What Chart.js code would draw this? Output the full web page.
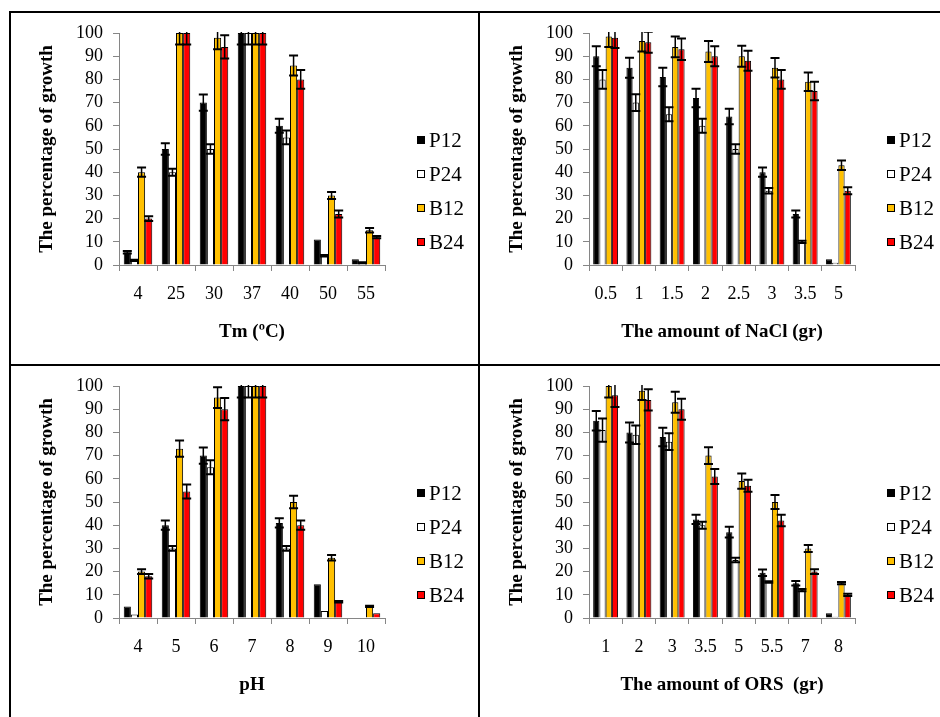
<!DOCTYPE html>
<html>
<head>
<meta charset="utf-8">
<script src="https://cdn.jsdelivr.net/npm/chart.js@4.4.0/dist/chart.umd.min.js"></script>
<style>
  body { margin: 0; background: #fff; width: 940px; height: 717px; overflow: hidden; position: relative; }
  .linea { position: absolute; background: #000; }
  canvas { position: absolute; }
</style>
</head>
<body>
<!-- cornice dei quattro pannelli -->
<div class="linea" style="left:9px;top:11px;width:931px;height:2px"></div>
<div class="linea" style="left:9px;top:11px;width:2px;height:706px"></div>
<div class="linea" style="left:478px;top:11px;width:2px;height:706px"></div>
<div class="linea" style="left:9px;top:364px;width:931px;height:2px"></div>

<canvas id="graficoTemp" width="466" height="350" style="left:12px;top:14px"></canvas>
<canvas id="graficoNaCl" width="458" height="350" style="left:482px;top:14px"></canvas>
<canvas id="graficoPH" width="466" height="350" style="left:12px;top:367px"></canvas>
<canvas id="graficoORS" width="458" height="350" style="left:482px;top:367px"></canvas>

<script>
// Serie e colori
const serie = ['P12', 'P24', 'B12', 'B24'];
const coloriSerie = ['#000000', '#ffffff', '#ffc000', '#ff0000'];

// Temperatura
const tempCategorie = ['4', '25', '30', '37', '40', '50', '55'];
const tempP12 = [5.5, 50, 70, 100, 60, 11, 2.5];
const tempP24 = [2, 40, 50, 100, 55, 4, 1];
const tempB12 = [40, 100, 98, 100, 86, 30, 15];
const tempB24 = [20, 100, 94, 100, 80, 22, 12];
const tempP12Err = [0.5, 2.5, 3.5, 5, 3, 0, 0];
const tempP24Err = [0.3, 1.5, 2, 5, 3, 0.3, 0.2];
const tempB12Err = [2, 5, 5, 5, 4.3, 1.5, 1];
const tempB24Err = [1, 5, 5, 5, 4, 1.5, 0.5];

// NaCl
const naclCategorie = ['0.5', '1', '1.5', '2', '2.5', '3', '3.5', '5'];
const naclP12 = [90, 85, 81, 72, 64, 40, 22, 2.5];
const naclP24 = [80, 70, 65, 60, 50, 32, 10, 1];
const naclB12 = [98.5, 96.5, 94, 92, 90, 85, 79, 43];
const naclB24 = [98, 96, 93, 90, 88, 80, 75, 32];
const naclP12Err = [4.3, 4.3, 4, 4, 3.3, 2, 1.5, 0];
const naclP24Err = [4, 3.6, 3, 3, 2, 1.2, 0.5, 0];
const naclB12Err = [4.5, 4.5, 4.5, 4.5, 4.5, 4.2, 4, 2];
const naclB24Err = [4.5, 4.5, 4.6, 4.3, 4.3, 4, 4, 1.5];

// pH
const phCategorie = ['4', '5', '6', '7', '8', '9', '10'];
const phP12 = [5, 40, 70, 100, 41, 14.5, 0];
const phP24 = [1.5, 30, 65, 100, 30, 3, 0];
const phB12 = [20, 73, 95, 100, 50, 26, 5];
const phB24 = [18, 54.5, 90, 100, 40, 7, 2];
const phP12Err = [0, 2, 3.5, 5, 2, 0, 0];
const phP24Err = [0, 1, 3, 5, 1, 0, 0];
const phB12Err = [1, 3.5, 4.5, 5, 2.7, 1.2, 0.3];
const phB24Err = [1, 3, 4.8, 5, 2, 0.3, 0];

// ORS
const orsCategorie = ['1', '2', '3', '3.5', '5', '5.5', '7', '8'];
const orsP12 = [85, 80, 78, 42.5, 37, 19.5, 15, 2];
const orsP24 = [81, 79, 76, 40, 25, 15.5, 12, 0.5];
const orsB12 = [100, 98, 93, 70, 59, 50, 30, 15];
const orsB24 = [96, 94, 90, 61, 57, 42, 20, 10];
const orsP12Err = [4.2, 4.3, 4, 2, 2.3, 1.4, 1, 0];
const orsP24Err = [5, 4, 3.6, 1.5, 1, 0.3, 0.5, 0];
const orsB12Err = [5, 4, 4.5, 3.6, 3.3, 3, 1.5, 0.5];
const orsB24Err = [5, 4.6, 4.5, 3.2, 2.6, 2.5, 1, 0.5];

const fontSerif = 'Liberation Serif';

// Plugin per le barre d'errore (tagliate sull'area del grafico)
const barreErrore = {
    id: 'barreErrore',
    afterDatasetsDraw(chart) {
        const ctx = chart.ctx;
        const area = chart.chartArea;
        const scalaY = chart.scales.y;
        ctx.save();
        ctx.beginPath();
        ctx.rect(area.left, area.top - 1, area.right - area.left, area.bottom - area.top + 1);
        ctx.clip();
        ctx.strokeStyle = '#000';
        chart.data.datasets.forEach((ds, i) => {
            const meta = chart.getDatasetMeta(i);
            meta.data.forEach((barra, j) => {
                const err = ds.errori[j];
                if (!err) return;
                const v = ds.data[j];
                const yAlto = scalaY.getPixelForValue(v + err);
                const yBasso = scalaY.getPixelForValue(v - err);
                const mezzo = 4.5;
                ctx.lineWidth = 1.5;
                ctx.beginPath();
                ctx.moveTo(barra.x, yAlto);
                ctx.lineTo(barra.x, yBasso);
                ctx.stroke();
                ctx.lineWidth = 2;
                ctx.beginPath();
                ctx.moveTo(barra.x - mezzo, yAlto);
                ctx.lineTo(barra.x + mezzo, yAlto);
                ctx.moveTo(barra.x - mezzo, yBasso);
                ctx.lineTo(barra.x + mezzo, yBasso);
                ctx.stroke();
            });
        });
        ctx.restore();
    }
};

// Legenda a destra disegnata a mano
const legendaLaterale = {
    id: 'legendaLaterale',
    afterDraw(chart) {
        const ctx = chart.ctx;
        const area = chart.chartArea;
        ctx.save();
        ctx.font = '21px "' + fontSerif + '"';
        ctx.textBaseline = 'middle';
        ctx.fillStyle = '#000';
        chart.data.datasets.forEach((ds, i) => {
            const x = area.right + 32;
            const y = area.top + 107 + 34 * i;
            ctx.fillStyle = ds.backgroundColor;
            ctx.fillRect(x, y - 4, 8, 8);
            ctx.strokeStyle = '#000';
            ctx.lineWidth = 1;
            ctx.strokeRect(x + 0.5, y - 3.5, 7, 7);
            ctx.fillStyle = '#000';
            ctx.fillText(ds.label, x + 12, y + 1);
        });
        ctx.restore();
    }
};

function disegnaGrafico(idCanvas, categorie, valori, errori, titoloX) {
    const ctx = document.getElementById(idCanvas).getContext('2d');
    const larghezza = ctx.canvas.width;

    const datasets = serie.map((nome, i) => ({
        label: nome,
        data: valori[i],
        errori: errori[i],
        backgroundColor: coloriSerie[i],
        borderColor: '#000',
        borderWidth: 1,
        categoryPercentage: 0.75,
        barPercentage: 1.0
    }));

    return new Chart(ctx, {
        type: 'bar',
        data: { labels: categorie, datasets: datasets },
        options: {
            responsive: false,
            animation: false,
            layout: { padding: { left: 0, top: 19, right: larghezza - 373, bottom: 0 } },
            plugins: {
                legend: { display: false },
                tooltip: { enabled: false }
            },
            scales: {
                x: {
                    grid: { offset: true, drawOnChartArea: false, tickLength: 6, color: '#868686' },
                    border: { color: '#868686' },
                    ticks: { font: { family: fontSerif, size: 18 }, color: '#000', padding: 12, autoSkip: false },
                    title: {
                        display: true,
                        text: titoloX,
                        color: '#000',
                        font: { family: fontSerif, size: 19, weight: 'bold' },
                        padding: { top: 0, bottom: 21 }
                    },
                    afterFit: s => { s.height = 99; }
                },
                y: {
                    min: 0,
                    max: 100,
                    grid: { drawOnChartArea: false, tickLength: 6, color: '#868686' },
                    border: { color: '#868686' },
                    ticks: {
                        stepSize: 10,
                        autoSkip: false,
                        font: { family: fontSerif, size: 18, lineHeight: 1 },
                        color: '#000',
                        padding: 10
                    },
                    title: {
                        display: true,
                        text: 'The percentage of growth',
                        color: '#000',
                        font: { family: fontSerif, size: 19, weight: 'bold' },
                        padding: { top: 24, bottom: 0 }
                    },
                    afterFit: s => { s.width = 107; }
                }
            }
        },
        plugins: [barreErrore, legendaLaterale]
    });
}

disegnaGrafico('graficoTemp', tempCategorie,
    [tempP12, tempP24, tempB12, tempB24],
    [tempP12Err, tempP24Err, tempB12Err, tempB24Err], 'Tm (ºC)');
disegnaGrafico('graficoNaCl', naclCategorie,
    [naclP12, naclP24, naclB12, naclB24],
    [naclP12Err, naclP24Err, naclB12Err, naclB24Err], 'The amount of NaCl (gr)');
disegnaGrafico('graficoPH', phCategorie,
    [phP12, phP24, phB12, phB24],
    [phP12Err, phP24Err, phB12Err, phB24Err], 'pH');
disegnaGrafico('graficoORS', orsCategorie,
    [orsP12, orsP24, orsB12, orsB24],
    [orsP12Err, orsP24Err, orsB12Err, orsB24Err], 'The amount of ORS  (gr)');
</script>
</body>
</html>
